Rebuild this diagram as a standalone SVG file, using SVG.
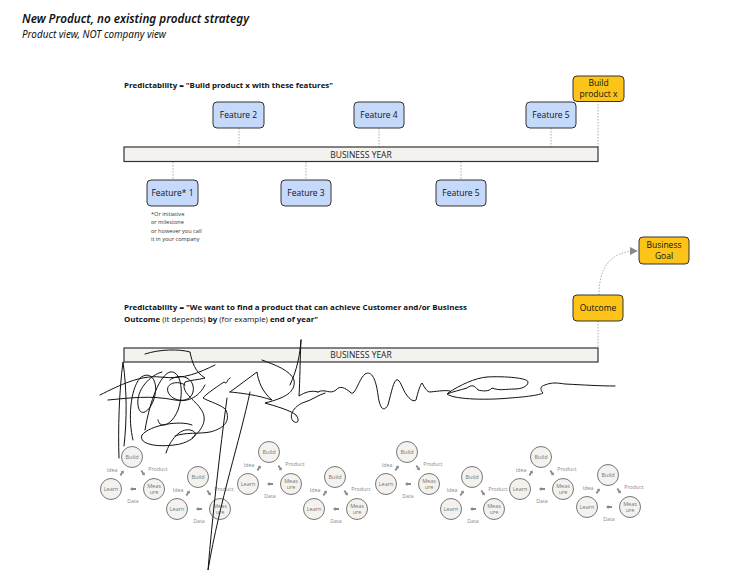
<svg xmlns="http://www.w3.org/2000/svg" xmlns:xlink="http://www.w3.org/1999/xlink" width="740" height="581" viewBox="0 0 740 581">
<style>
text{font-family:"Open Sans","Liberation Sans",sans-serif;fill:#111}
.title{font-family:"Noto Sans","DejaVu Sans",sans-serif;font-style:italic}
.b{font-weight:bold}
.feat rect{fill:#c5d9fb;stroke:#333;stroke-width:1}
.feat text,.gold text{font-size:8.5px;text-anchor:middle}
.gold rect{fill:#fcc419;stroke:#333;stroke-width:1}
.bar rect{fill:#f3f2ee;stroke:#333;stroke-width:1.2}
.bar text{font-size:8.5px;text-anchor:middle;fill:#222}
.dot{stroke:#aaa;stroke-width:1;stroke-dasharray:1.5 1.5;fill:none}
.note{font-size:5.6px;fill:#333}
.cyc circle{fill:#f3f2ee;stroke:#777;stroke-width:1}
.cyc text{font-size:5.5px;text-anchor:middle;fill:#777}
.cyc text.lb{font-size:5.3px;fill:#888}
.scr path{fill:none;stroke:#111;stroke-width:1;stroke-linejoin:round;stroke-linecap:round}
</style>
<defs>
<path id="arr" d="M-3,-0.9 H0.5 V-2 L3,0 L0.5,2 V0.9 H-3 Z" fill="#888"/>
<marker id="ah" viewBox="0 0 10 10" refX="9" refY="5" markerWidth="8" markerHeight="8" orient="auto" markerUnits="userSpaceOnUse">
<path d="M0,0 L10,5 L0,10 Z" fill="#888"/>
</marker>
</defs>
<rect width="740" height="581" fill="#fff"/>

<text class="title" x="22" y="23" font-size="13" font-weight="600" textLength="227" lengthAdjust="spacingAndGlyphs">New Product, no existing product strategy</text>
<text class="title" x="22" y="38" font-size="10" textLength="144" lengthAdjust="spacingAndGlyphs">Product view, NOT company view</text>

<text class="b" x="124" y="88" font-size="7.8" textLength="209" lengthAdjust="spacingAndGlyphs">Predictability = "Build product x with these features"</text>

<g id="connectors">
<path class="dot" d="M239,128 V147 M379,128 V147 M551,128 V147 M598,101 V147"/>
<path class="dot" d="M173,162 V180 M306,162 V180 M461,162 V180"/>
<path class="dot" d="M598,321 V348"/>
<path class="dot" d="M599,295 C599,268 610,251 637,251" marker-end="url(#ah)"/>
</g>

<g id="bar1" class="bar"><rect x="124" y="147" width="474" height="14.5"/><text x="361" y="157.5">BUSINESS YEAR</text></g>

<g id="f2" class="feat"><rect x="213" y="102" width="51" height="26" rx="4"/><text x="238.5" y="118">Feature 2</text></g>
<g id="f4" class="feat"><rect x="354" y="102" width="50" height="26" rx="4"/><text x="379" y="118">Feature 4</text></g>
<g id="f5a" class="feat"><rect x="526" y="102" width="50" height="26" rx="4"/><text x="551" y="118">Feature 5</text></g>
<g id="bpx" class="gold"><rect x="573" y="76" width="51" height="25.5" rx="4"/><text x="598.5" y="85.5">Build</text><text x="598.5" y="97">product x</text></g>

<g id="f1" class="feat"><rect x="147" y="180" width="51" height="26" rx="4"/><text x="172.5" y="196">Feature* 1</text></g>
<g id="f3" class="feat"><rect x="281" y="180" width="50" height="26" rx="4"/><text x="306" y="196">Feature 3</text></g>
<g id="f5b" class="feat"><rect x="436" y="180" width="50" height="26" rx="4"/><text x="461" y="196">Feature 5</text></g>

<g id="note">
<text class="note" x="151" y="215.5">*Or initiative</text>
<text class="note" x="151" y="224">or milestone</text>
<text class="note" x="151" y="232.5">or however you call</text>
<text class="note" x="151" y="241">it in your company</text>
</g>

<g id="goal" class="gold"><rect x="639" y="237" width="50" height="27" rx="4"/><text x="664" y="247.5">Business</text><text x="664" y="259">Goal</text></g>
<g id="outcome" class="gold"><rect x="573" y="295" width="50" height="26" rx="4"/><text x="598" y="311">Outcome</text></g>

<text class="b" x="124" y="310" font-size="7.8" textLength="343" lengthAdjust="spacingAndGlyphs">Predictability = "We want to find a product that can achieve Customer and/or Business</text>
<text x="124" y="322" font-size="7.8" textLength="194" lengthAdjust="spacingAndGlyphs"><tspan class="b">Outcome</tspan> (it depends) <tspan class="b">by</tspan> (for example) <tspan class="b">end of year"</tspan></text>

<g id="bar2" class="bar"><rect x="124" y="348" width="474" height="14"/><text x="361" y="358.3">BUSINESS YEAR</text></g>

<g id="cycA" class="cyc" transform="translate(132,457)">
<circle cx="0" cy="0" r="10.5"/><text x="0" y="2">Build</text>
<circle cx="-21" cy="32" r="10.5"/><text x="-21" y="34">Learn</text>
<circle cx="22" cy="32" r="10.5"/><text x="22" y="30.5">Meas</text><text x="22" y="37">ure</text>
<text class="lb" x="-20" y="15">Idea</text><text class="lb" x="26" y="14">Product</text><text class="lb" x="1" y="46">Data</text>
<use href="#arr" transform="translate(-10,16) rotate(-57)"/><use href="#arr" transform="translate(11,16) rotate(56)"/><use href="#arr" transform="translate(1,32) rotate(180)"/>
</g>
<g id="cycB" class="cyc" transform="translate(198,477)">
<circle cx="0" cy="0" r="10.5"/><text x="0" y="2">Build</text>
<circle cx="-21" cy="32" r="10.5"/><text x="-21" y="34">Learn</text>
<circle cx="22" cy="32" r="10.5"/><text x="22" y="30.5">Meas</text><text x="22" y="37">ure</text>
<text class="lb" x="-20" y="15">Idea</text><text class="lb" x="26" y="14">Product</text><text class="lb" x="1" y="46">Data</text>
<use href="#arr" transform="translate(-10,16) rotate(-57)"/><use href="#arr" transform="translate(11,16) rotate(56)"/><use href="#arr" transform="translate(1,32) rotate(180)"/>
</g>
<g id="cycC" class="cyc" transform="translate(269,452)">
<circle cx="0" cy="0" r="10.5"/><text x="0" y="2">Build</text>
<circle cx="-21" cy="32" r="10.5"/><text x="-21" y="34">Learn</text>
<circle cx="22" cy="32" r="10.5"/><text x="22" y="30.5">Meas</text><text x="22" y="37">ure</text>
<text class="lb" x="-20" y="15">Idea</text><text class="lb" x="26" y="14">Product</text><text class="lb" x="1" y="46">Data</text>
<use href="#arr" transform="translate(-10,16) rotate(-57)"/><use href="#arr" transform="translate(11,16) rotate(56)"/><use href="#arr" transform="translate(1,32) rotate(180)"/>
</g>
<g id="cycD" class="cyc" transform="translate(335,477)">
<circle cx="0" cy="0" r="10.5"/><text x="0" y="2">Build</text>
<circle cx="-21" cy="32" r="10.5"/><text x="-21" y="34">Learn</text>
<circle cx="22" cy="32" r="10.5"/><text x="22" y="30.5">Meas</text><text x="22" y="37">ure</text>
<text class="lb" x="-20" y="15">Idea</text><text class="lb" x="26" y="14">Product</text><text class="lb" x="1" y="46">Data</text>
<use href="#arr" transform="translate(-10,16) rotate(-57)"/><use href="#arr" transform="translate(11,16) rotate(56)"/><use href="#arr" transform="translate(1,32) rotate(180)"/>
</g>
<g id="cycE" class="cyc" transform="translate(407,452)">
<circle cx="0" cy="0" r="10.5"/><text x="0" y="2">Build</text>
<circle cx="-21" cy="32" r="10.5"/><text x="-21" y="34">Learn</text>
<circle cx="22" cy="32" r="10.5"/><text x="22" y="30.5">Meas</text><text x="22" y="37">ure</text>
<text class="lb" x="-20" y="15">Idea</text><text class="lb" x="26" y="14">Product</text><text class="lb" x="1" y="46">Data</text>
<use href="#arr" transform="translate(-10,16) rotate(-57)"/><use href="#arr" transform="translate(11,16) rotate(56)"/><use href="#arr" transform="translate(1,32) rotate(180)"/>
</g>
<g id="cycF" class="cyc" transform="translate(472,477)">
<circle cx="0" cy="0" r="10.5"/><text x="0" y="2">Build</text>
<circle cx="-21" cy="32" r="10.5"/><text x="-21" y="34">Learn</text>
<circle cx="22" cy="32" r="10.5"/><text x="22" y="30.5">Meas</text><text x="22" y="37">ure</text>
<text class="lb" x="-20" y="15">Idea</text><text class="lb" x="26" y="14">Product</text><text class="lb" x="1" y="46">Data</text>
<use href="#arr" transform="translate(-10,16) rotate(-57)"/><use href="#arr" transform="translate(11,16) rotate(56)"/><use href="#arr" transform="translate(1,32) rotate(180)"/>
</g>
<g id="cycG" class="cyc" transform="translate(541,457)">
<circle cx="0" cy="0" r="10.5"/><text x="0" y="2">Build</text>
<circle cx="-21" cy="32" r="10.5"/><text x="-21" y="34">Learn</text>
<circle cx="22" cy="32" r="10.5"/><text x="22" y="30.5">Meas</text><text x="22" y="37">ure</text>
<text class="lb" x="-20" y="15">Idea</text><text class="lb" x="26" y="14">Product</text><text class="lb" x="1" y="46">Data</text>
<use href="#arr" transform="translate(-10,16) rotate(-57)"/><use href="#arr" transform="translate(11,16) rotate(56)"/><use href="#arr" transform="translate(1,32) rotate(180)"/>
</g>
<g id="cycH" class="cyc" transform="translate(608,475)">
<circle cx="0" cy="0" r="10.5"/><text x="0" y="2">Build</text>
<circle cx="-21" cy="32" r="10.5"/><text x="-21" y="34">Learn</text>
<circle cx="22" cy="32" r="10.5"/><text x="22" y="30.5">Meas</text><text x="22" y="37">ure</text>
<text class="lb" x="-20" y="15">Idea</text><text class="lb" x="26" y="14">Product</text><text class="lb" x="1" y="46">Data</text>
<use href="#arr" transform="translate(-10,16) rotate(-57)"/><use href="#arr" transform="translate(11,16) rotate(56)"/><use href="#arr" transform="translate(1,32) rotate(180)"/>
</g>

<g id="scribble" class="scr">
<path d="M119,458 C118,430 119,392 123,362 C127,390 127,420 124,446"/>
<path d="M100,395 C120,385 140,375 160,377 C185,380 200,372 215,365"/>
<path d="M108,400 C130,398 150,395 175,400 C190,403 200,395 205,385"/>
<path d="M170,380 C180,372 196,378 193,392 C190,404 172,402 168,392 C165,383 178,380 185,385"/>
<path d="M133,440 C128,420 130,390 140,378 C150,370 158,380 155,395 C152,410 140,420 138,405 C136,390 150,375 162,372"/>
<path d="M145,430 C150,400 160,375 170,372 C180,370 185,390 178,410 C172,425 160,430 158,420"/>
<path d="M192,425 C180,420 150,425 142,435 C138,445 160,448 180,444 C195,440 200,432 190,430 C180,428 170,440 166,453"/>
<path d="M145,354 C160,349 180,349 190,352 C192,362 195,372 205,378 C198,380 190,380 185,382 C180,392 195,400 200,408 C210,420 200,432 192,438"/>
<path d="M230,378 C226,380 228,385 224,382 C215,388 205,395 203,398 C210,402 222,405 226,410 C230,420 226,428 210,432 C200,434 185,432 175,436"/>
<path d="M230,392 L257,372 C258,380 262,392 272,400 C262,397 252,394 230,392"/>
<path d="M250,392 C240,440 220,500 208,570 C212,520 220,450 227,398"/>
<path d="M262,360 C275,365 290,370 294,380 C296,392 285,398 265,403 C275,406 290,410 296,415 C300,420 298,425 293,421 C288,415 295,405 305,402 C312,400 318,395 325,393"/>
<path d="M301,340 C300,360 300,380 299,396 C305,392 312,390 318,392"/>
<path d="M301,340 C300,355 297,370 290,385"/>
<path d="M318,392 C325,388 330,395 336,390 C340,385 345,388 350,392 C355,398 358,380 365,374 C372,370 376,380 378,395 C380,410 384,412 388,405 C392,390 394,378 398,380 C401,382 403,390 406,394 C410,400 414,402 416,400 C418,392 420,385 422,383 C425,388 427,392 430,392 C440,391 445,390 450,391"/>
<path d="M448,393 C460,385 475,378 487,377 C505,376 528,378 528,382 C528,387 520,389 515,389 C505,389 500,391 492,388 C489,392 482,391 478,390 C475,386 472,384 467,388 C460,390 452,392 447,394 C455,400 490,400 510,398 C525,397 540,395 543,393 C540,390 540,386 545,385 C552,382 558,383 565,384 C585,385 600,386 615,386"/>
</g>
</svg>
